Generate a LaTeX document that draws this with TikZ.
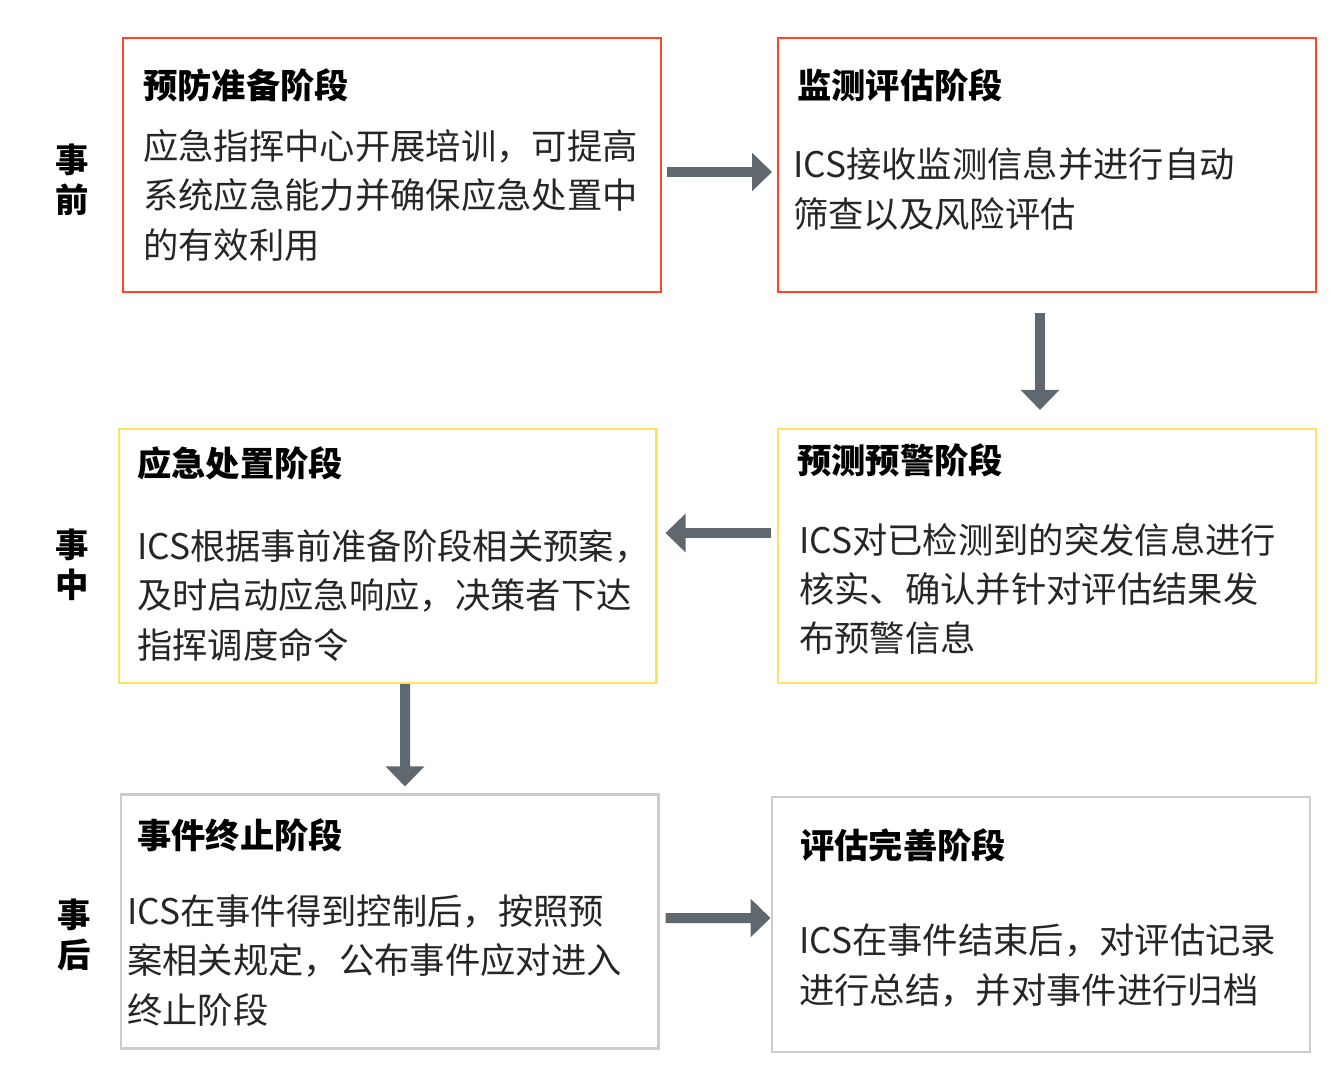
\documentclass[tikz,border=0pt]{standalone}
\usepackage{fontspec}
\setmainfont{Noto Sans CJK SC}
\usetikzlibrary{positioning, arrows.meta}

\begin{document}
\begin{tikzpicture}[
    x=0.02cm, y=-0.02cm,
    % Styles
    stagebox/.style={draw=#1, line width=1.2pt, minimum width=10.76cm, minimum height=5.08cm, inner sep=0pt},
    title/.style={font=\fontsize{19.5}{24}\selectfont\bfseries, anchor=west, inner sep=0pt},
    body/.style={font=\fontsize{20.1}{28}\selectfont, anchor=west, align=left, inner sep=0pt, text=black!85},
    side/.style={font=\fontsize{19}{23}\selectfont\bfseries, align=center, inner sep=0pt},
    flow/.style={-{Triangle[width=0.75cm, length=0.4cm]}, line width=0.2cm, draw=black!75!cyan!60!gray},
]
\useasboundingbox (0,0) rectangle (1342,1078);

% Side labels
\node[side] (before) at (72,180) {事\\前};
\node[side] (during) at (72,565) {事\\中};
\node[side] (after) at (74,935) {事\\后};

% Stage boxes
\node[stagebox=red!70!orange!85!white] (prep) at (392,165) {};
\node[stagebox=red!70!orange!85!white] (monitor) at (1047,165) {};
\node[stagebox=yellow!70!orange!60!white] (respond) at (387.5,556) {};
\node[stagebox=yellow!70!orange!60!white] (warn) at (1047,556) {};
\node[stagebox=black!20] (stop) at (389.5,921.5) {};
\node[stagebox=black!20, minimum height=5.1cm] (review) at (1041,924.5) {};

% Texts
\node[title] (prep-t) at (143,85) {预防准备阶段};
\node[body] (prep-b) at (143,195.5) {应急指挥中心开展培训，可提高\\系统应急能力并确保应急处置中\\的有效利用};

\node[title] (monitor-t) at (797,85) {监测评估阶段};
\node[body] (monitor-b) at (793,189) {ICS接收监测信息并进行自动\\筛查以及风险评估};

\node[title] (respond-t) at (137,463) {应急处置阶段};
\node[body] (respond-b) at (137,595.5) {ICS根据事前准备阶段相关预案，\\及时启动应急响应，决策者下达\\指挥调度命令};

\node[title] (warn-t) at (797,460) {预测预警阶段};
\node[body] (warn-b) at (799,589) {ICS对已检测到的突发信息进行\\核实、确认并针对评估结果发\\布预警信息};

\node[title] (stop-t) at (137,835) {事件终止阶段};
\node[body] (stop-b) at (127,960.5) {ICS在事件得到控制后，按照预\\案相关规定，公布事件应对进入\\终止阶段};

\node[title] (review-t) at (800,845) {评估完善阶段};
\node[body] (review-b) at (799,965.5) {ICS在事件结束后，对评估记录\\进行总结，并对事件进行归档};

% Connectors
\draw[flow, shorten <=0.1cm, shorten >=0.1cm] ([yshift=-0.14cm]prep.east) -- ([yshift=-0.14cm]monitor.west);
\draw[flow, shorten <=0.4cm, shorten >=0.36cm] ([xshift=-0.14cm]monitor.south) -- ([xshift=-0.14cm]warn.north);
\draw[flow, shorten <=0.12cm, shorten >=0.16cm] ([yshift=0.46cm]warn.west) -- ([yshift=0.46cm]respond.east);
\draw[flow, shorten >=0.14cm] ([xshift=0.35cm]respond.south) -- ([xshift=0.35cm-0.04cm]stop.north);
\draw[flow, shorten <=0.12cm, shorten >=0.01cm] ([yshift=0.07cm]stop.east) -- ([yshift=0.13cm]review.west);
\end{tikzpicture}
\end{document}
